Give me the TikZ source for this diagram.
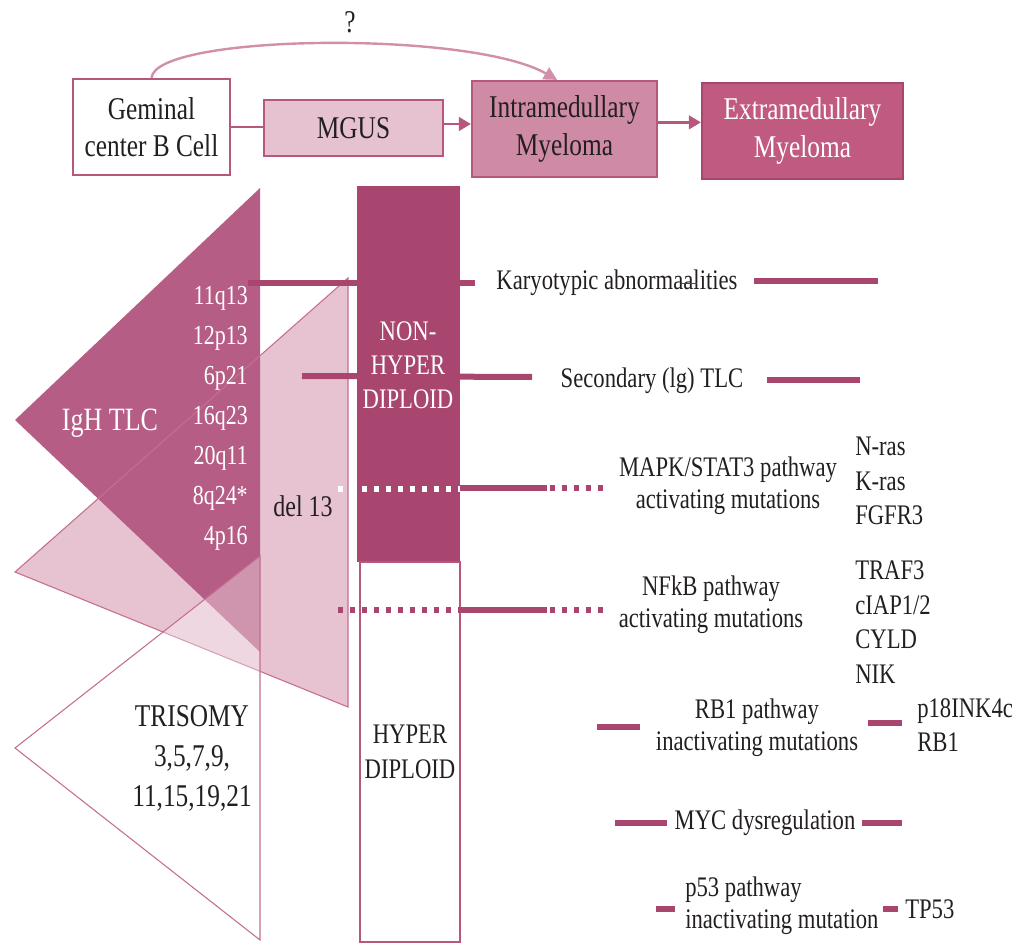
\documentclass[tikz,border=0pt]{standalone}
\usepackage{fontspec}
\setmainfont[FakeStretch=0.8]{Liberation Serif}
\usetikzlibrary{arrows.meta,calc}
\definecolor{barcol}{HTML}{A8466F}
\definecolor{darktri}{HTML}{B65D85}
\definecolor{lightpk}{HTML}{E7C3D1}
\definecolor{edgepk}{HTML}{C46E90}
\definecolor{bordpk}{HTML}{B8577E}
\definecolor{mgusfill}{HTML}{E6C2D0}
\definecolor{intrafill}{HTML}{CF8BA5}
\definecolor{extrafill}{HTML}{C05A80}
\definecolor{curvepk}{HTML}{D28FAA}
\definecolor{txt}{HTML}{231F20}
\begin{document}
\begin{tikzpicture}[x=0.75pt,y=-0.75pt,
  topbox/.style={draw=bordpk, line width=1.6pt, inner sep=0pt, align=center,
    font=\fontsize{23.75}{28}\selectfont, text=txt},
  conn/.style={draw=bordpk, line width=2.2pt},
  tip/.style={-{Triangle[length=9pt,width=10pt]}},
  bar/.style={draw=barcol, line width=4.5pt},
  dbar/.style={bar, dash pattern=on 3.8pt off 5.2pt},
  wbar/.style={draw=white, line width=4.5pt, dash pattern=on 3.8pt off 5.2pt},
  rtxt/.style={align=center, font=\fontsize{21.25}{24}\selectfont, text=txt, inner sep=0pt},
  listtxt/.style={align=left, anchor=west, font=\fontsize{21.25}{26}\selectfont, text=txt, inner sep=0pt},
  thinedge/.style={draw=edgepk, line width=0.8pt}
]
\useasboundingbox (0,0) rectangle (1020,945);

% ---- left triangles ----
\coordinate (LA) at (348,278);
\coordinate (LB) at (15,572);
\coordinate (LC) at (348,707);
\coordinate (DA) at (260,188);
\coordinate (DB) at (15,420);
\coordinate (DC) at (260,652);
\coordinate (WA) at (260,556);
\coordinate (WB) at (15,748);
\coordinate (WC) at (260,940);
\fill[lightpk] (LA) -- (LB) -- (LC) -- cycle;
\fill[darktri] (DA) -- (DB) -- (DC) -- cycle;
\draw[thinedge] (LA) -- (LB) -- (LC) -- cycle;
\filldraw[fill=white, fill opacity=0.35, thinedge] (WA) -- (WB) -- (WC) -- cycle;

% ---- central column ----
\node[fill=barcol, minimum width=77.25pt, minimum height=282pt, inner sep=0pt] (nh) at (408.5,374) {};
\node[draw=bordpk, fill=white, line width=1.4pt, minimum width=75pt, minimum height=285pt,
  inner sep=0pt, align=center, font=\fontsize{21.25}{26}\selectfont, text=txt] (hd) at (410,752) {HYPER\\DIPLOID};

% ---- bars ----
\draw[bar] (248,283) -- (475,283);
\draw[bar] (754,281) -- (878,281);
\draw[bar] (302,376) -- (532,377);
\draw[bar] (767,380) -- (860,380);
% MAPK row
\draw[wbar] (338,489) -- (460,489);
\draw[bar] (460,488) -- (547,488);
\draw[dbar] (550,488) -- (608,488);
% NFkB row
\draw[dbar] (338,610) -- (460,610);
\draw[bar] (460,610) -- (547,610);
\draw[dbar] (550,610) -- (608,610);
% RB1 row
\draw[bar] (597,727) -- (640,727);
\draw[bar] (868,723) -- (902,723);
% MYC row
\draw[bar] (615,823) -- (667,823);
\draw[bar] (862,823) -- (902,823);
% p53 row
\draw[bar] (656,909) -- (675,909);
\draw[bar] (883,909) -- (898,909);

% ---- top flow ----
\node[topbox, fill=white, minimum width=117.75pt, minimum height=72pt] (gem) at (151.5,127) {Geminal\\center B Cell};
\node[topbox, fill=mgusfill, minimum width=134.25pt, minimum height=42pt] (mgus) at (353.5,128) {MGUS};
\node[topbox, fill=intrafill, minimum width=138.75pt, minimum height=72pt] (intra) at (564.5,129) {Intramedullary\\Myeloma};
\node[topbox, fill=extrafill, draw=barcol, text=white, minimum width=150.75pt, minimum height=72pt] (extra) at (802.5,131) {Extramedullary\\Myeloma};

\draw[conn] (gem.east) -- (gem.east -| mgus.west);
\draw[conn, tip] ([yshift=3pt]mgus.east) -- ([yshift=3pt]mgus.east -| intra.west);
\draw[conn, tip] ([yshift=5pt]intra.east) -- ([yshift=5pt]intra.east -| extra.west);
\draw[draw=curvepk, line width=1.8pt, -{Triangle[length=10pt,width=10pt]}]
  (gem.north) .. controls (155,34) and (470,30) .. ([xshift=-5.5pt]intra.north);
\node[font=\fontsize{23.75}{24}\selectfont, text=txt] (q) at (350,22) {?};

% ---- left texts ----
\node[font=\fontsize{24.4}{24}\selectfont, text=white, inner sep=0pt] (igh) at (110,423) {IgH TLC};
\node[align=right, anchor=east, font=\fontsize{20.6}{30}\selectfont, text=white, inner sep=0pt] (loci) at (248,418)
  {11q13\\12p13\\6p21\\16q23\\20q11\\8q24*\\4p16};
\node[font=\fontsize{22.5}{24}\selectfont, text=txt, inner sep=0pt] (del) at (303,506) {del 13};
\node[align=center, font=\fontsize{23.75}{30}\selectfont, text=txt, inner sep=0pt] (tri) at (192,758)
  {TRISOMY\\3,5,7,9,\\11,15,19,21};
\node[align=center, font=\fontsize{21.25}{25.5}\selectfont, text=white, inner sep=0pt] (nhtxt) at (408,365)
  {NON-\\HYPER\\DIPLOID};

% ---- right texts ----
\node[rtxt] (kary) at (617,283) {Karyotypic abnormaalities};
\draw[red, line width=0.6pt] (681,283) -- (697,283);
\node[rtxt] (sec) at (652,381) {Secondary (lg) TLC};
\node[rtxt] (mapk) at (728,486) {MAPK/STAT3 pathway\\activating mutations};
\node[rtxt] (nfkb) at (711,605) {NFkB pathway\\activating mutations};
\node[rtxt] (rb) at (757,728) {RB1 pathway\\inactivating mutations};
\node[rtxt] (myc) at (765,823) {MYC dysregulation};
\node[rtxt, align=left, anchor=west] (p53) at (685,906) {p53 pathway\\inactivating mutation};
\node[listtxt] (l1) at (855,481) {N-ras\\K-ras\\FGFR3};
\node[listtxt] (l2) at (855,622) {TRAF3\\cIAP1/2\\CYLD\\NIK};
\node[listtxt] (l3) at (917,725) {p18INK4c\\RB1};
\node[listtxt] (tp53) at (905,909) {TP53};
\end{tikzpicture}
\end{document}
